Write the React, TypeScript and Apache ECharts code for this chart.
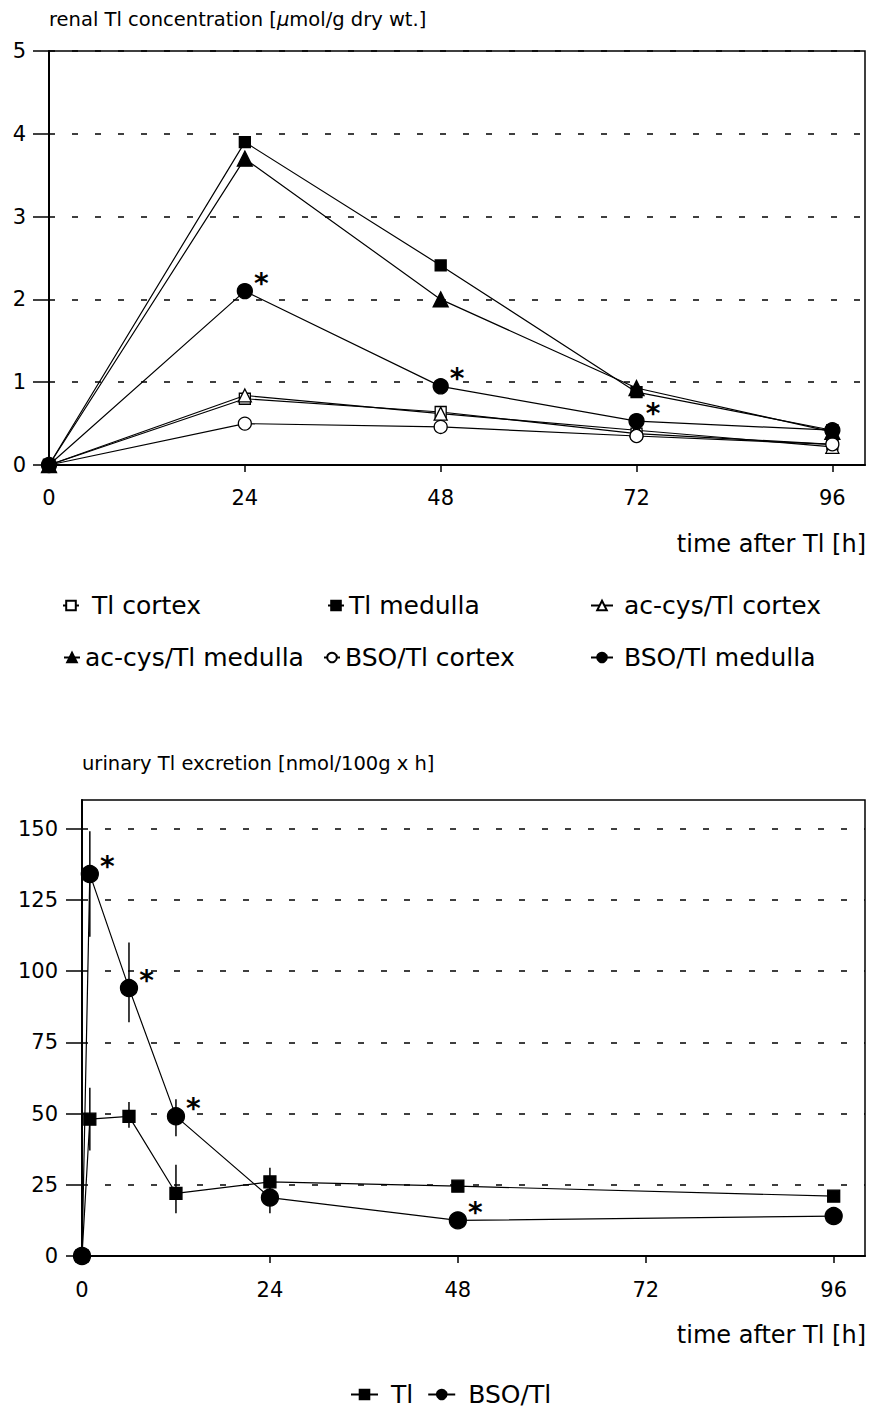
import React, { useEffect, useRef } from "react";
import * as echarts from "echarts";

// ---- Top chart data (renal Tl concentration) ----
const topHours = [0, 24, 48, 72, 96];
const tlCortex = [0, 0.8, 0.64, 0.38, 0.25];
const tlMedulla = [0, 3.9, 2.41, 0.88, 0.42];
const acCysCortex = [0, 0.84, 0.62, 0.42, 0.22];
const acCysMedulla = [0, 3.7, 2.0, 0.93, 0.4];
const bsoCortex = [0, 0.5, 0.46, 0.35, 0.25];
const bsoMedulla = [0, 2.1, 0.95, 0.53, 0.42];
const bsoMedullaSig = [false, true, true, true, false];
const topYTicks = [0, 1, 2, 3, 4, 5];

// ---- Bottom chart data (urinary Tl excretion) ----
const bottomHours = [0, 1, 6, 12, 24, 48, 96];
const tlUrine = [0, 48, 49, 22, 26, 24.5, 21];
const tlUrineLow = [null, 37, 45, 15, 21, null, null];
const tlUrineHigh = [null, 59, 54, 32, 31, null, null];
const bsoUrine = [0, 134, 94, 49, 20.5, 12.5, 14];
const bsoUrineLow = [null, 112, 82, 42, 15, null, null];
const bsoUrineHigh = [null, 149, 110, 55, 25, null, null];
const bsoUrineSig = [false, true, true, true, false, true, false];
const bottomYTicks = [0, 25, 50, 75, 100, 125, 150];

const xTickLabels = [0, 24, 48, 72, 96];

const FONT = "DejaVu Sans";

const starLabel = {
  show: true,
  formatter: "*",
  position: "right",
  distance: 1,
  offset: [0, -8],
  fontSize: 28,
  fontWeight: "bold",
  color: "#000",
  fontFamily: FONT,
};

function pts(xs: number[], ys: number[], sig?: boolean[]) {
  return xs.map((x, i) => {
    const it: any = { value: [x, ys[i]] };
    if (sig && sig[i]) it.label = starLabel;
    return it;
  });
}

function errData(xs: number[], lo: (number | null)[], hi: (number | null)[]) {
  const out: number[][] = [];
  xs.forEach((x, i) => {
    if (lo[i] != null && hi[i] != null) out.push([x, lo[i] as number, hi[i] as number]);
  });
  return out;
}

function lineSeries(
  name: string,
  xIdx: number,
  data: any[],
  symbol: string,
  size: number,
  filled: boolean
) {
  return {
    type: "line",
    name,
    xAxisIndex: xIdx,
    yAxisIndex: xIdx,
    data,
    symbol,
    symbolSize: size,
    showAllSymbol: true,
    z: 3,
    lineStyle: { color: "#000", width: 1.2 },
    itemStyle: {
      color: filled ? "#000" : "#fff",
      borderColor: "#000",
      borderWidth: 1.3,
    },
    emphasis: { disabled: true },
  };
}

function errSeries(xIdx: number, data: number[][]) {
  return {
    type: "custom",
    xAxisIndex: xIdx,
    yAxisIndex: xIdx,
    data,
    z: 2,
    silent: true,
    renderItem: (_p: any, api: any) => {
      const a = api.coord([api.value(0), api.value(1)]);
      const b = api.coord([api.value(0), api.value(2)]);
      return {
        type: "line",
        shape: { x1: a[0], y1: a[1], x2: b[0], y2: b[1] },
        style: { stroke: "#000", lineWidth: 1.5 },
      };
    },
  };
}

function legendItem(name: string, left: number, top: number, itemWidth: number, padLeft: number) {
  return {
    data: [name],
    left,
    top,
    orient: "horizontal",
    itemWidth,
    itemHeight: 12,
    selectedMode: false,
    textStyle: {
      color: "#000",
      fontSize: 25,
      fontFamily: FONT,
      padding: [0, 0, 0, padLeft],
    },
  };
}

export default function App() {
  const ref = useRef<HTMLDivElement>(null);
  useEffect(() => {
    document.body.style.margin = "0";
    if (!ref.current) return;
    const chart = echarts.init(ref.current, undefined, { renderer: "svg" });

    const axisCommon = {
      axisLine: { show: true, lineStyle: { color: "#000", width: 2 } },
      axisLabel: { color: "#000", fontSize: 21, fontFamily: FONT },
    };

    const option: any = {
      animation: false,
      backgroundColor: "#fff",
      textStyle: { fontFamily: FONT, color: "#000" },
      grid: [
        { left: 49, top: 51, right: 4, height: 414, show: true, borderColor: "#000", borderWidth: 1.5, backgroundColor: "transparent" },
        { left: 82, top: 800, right: 4, height: 456, show: true, borderColor: "#000", borderWidth: 1.5, backgroundColor: "transparent" },
      ],
      xAxis: [0, 1].map((g) => ({
        type: "value",
        gridIndex: g,
        min: 0,
        max: 100,
        ...axisCommon,
        axisTick: { show: true, inside: false, length: 7, lineStyle: { color: "#000", width: 1.5 }, customValues: xTickLabels },
        axisLabel: { ...axisCommon.axisLabel, margin: g === 0 ? 22 : 23, customValues: xTickLabels },
        splitLine: { show: false },
      })),
      yAxis: [
        {
          type: "value",
          gridIndex: 0,
          min: 0,
          max: 5,
          interval: 1,
          ...axisCommon,
          axisTick: { show: true, length: 16, lineStyle: { color: "#000", width: 1.5 }, customValues: topYTicks },
          axisLabel: { ...axisCommon.axisLabel, margin: 23, customValues: topYTicks },
          splitLine: { show: true, lineStyle: { color: "#000", type: [6, 17], width: 1.5 } },
        },
        {
          type: "value",
          gridIndex: 1,
          min: 0,
          max: 160,
          interval: 25,
          ...axisCommon,
          axisTick: { show: true, length: 16, lineStyle: { color: "#000", width: 1.5 }, customValues: bottomYTicks },
          axisLabel: { ...axisCommon.axisLabel, margin: 24, customValues: bottomYTicks },
          splitLine: { show: true, lineStyle: { color: "#000", type: [6, 17], width: 1.5 } },
        },
      ],
      legend: [
        legendItem("Tl cortex", 57, 588, 16, 8),
        legendItem("Tl medulla", 322, 588, 16, 0),
        legendItem("ac-cys/Tl cortex", 585, 588, 22, 6),
        legendItem("ac-cys/Tl medulla", 58, 640, 16, 0),
        legendItem("BSO/Tl cortex", 318, 640, 16, 0),
        legendItem("BSO/Tl medulla", 585, 640, 22, 6),
        {
          data: ["Tl", "BSO/Tl"],
          left: 345,
          top: 1377,
          itemWidth: 27,
          itemHeight: 12,
          itemGap: 14,
          selectedMode: false,
          textStyle: { color: "#000", fontSize: 25, fontFamily: FONT, padding: [0, 0, 0, 8] },
        },
      ],
      graphic: [
        {
          type: "text",
          left: 49,
          top: 9,
          style: {
            text: "renal Tl concentration [{i|\u03bc}mol/g dry wt.]",
            fontSize: 19.5,
            fontFamily: FONT,
            fill: "#000",
            rich: { i: { fontStyle: "italic", fontSize: 19.5, fontFamily: FONT, fill: "#000" } },
          },
        },
        {
          type: "text",
          right: 3,
          top: 532,
          style: { text: "time after Tl [h]", fontSize: 24, fontFamily: FONT, fill: "#000" },
        },
        {
          type: "text",
          left: 82,
          top: 753,
          style: { text: "urinary Tl excretion [nmol/100g x h]", fontSize: 19.5, fontFamily: FONT, fill: "#000" },
        },
        {
          type: "text",
          right: 3,
          top: 1323,
          style: { text: "time after Tl [h]", fontSize: 24, fontFamily: FONT, fill: "#000" },
        },
      ],
      series: [
        lineSeries("Tl cortex", 0, pts(topHours, tlCortex), "rect", 11, false),
        lineSeries("Tl medulla", 0, pts(topHours, tlMedulla), "rect", 11, true),
        lineSeries("ac-cys/Tl cortex", 0, pts(topHours, acCysCortex), "triangle", 13, false),
        lineSeries("ac-cys/Tl medulla", 0, pts(topHours, acCysMedulla), "triangle", 15, true),
        lineSeries("BSO/Tl cortex", 0, pts(topHours, bsoCortex), "circle", 13, false),
        lineSeries("BSO/Tl medulla", 0, pts(topHours, bsoMedulla, bsoMedullaSig), "circle", 15, true),
        errSeries(1, errData(bottomHours, tlUrineLow, tlUrineHigh)),
        errSeries(1, errData(bottomHours, bsoUrineLow, bsoUrineHigh)),
        lineSeries("Tl", 1, pts(bottomHours, tlUrine), "rect", 12, true),
        lineSeries("BSO/Tl", 1, pts(bottomHours, bsoUrine, bsoUrineSig), "circle", 17, true),
      ],
    };
    chart.setOption(option);
    return () => chart.dispose();
  }, []);
  return <div ref={ref} style={{ width: 869, height: 1410 }} />;
}
